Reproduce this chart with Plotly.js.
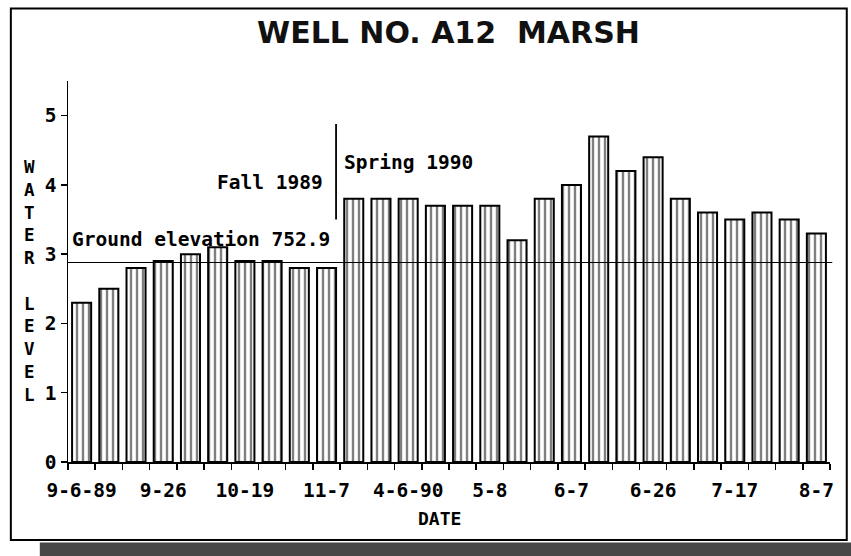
<!DOCTYPE html>
<html>
<head>
<meta charset="utf-8">
<script src="https://cdn.plot.ly/plotly-3.0.1.min.js"></script>
<style>
  html, body { margin: 0; padding: 0; background: #ffffff; }
  #chart { width: 851px; height: 556px; }
</style>
</head>
<body>
<div id="chart"></div>
<script>
// ---- data ----
const waterLevel = [2.3, 2.5, 2.8, 2.9, 3.0, 3.1, 2.9, 2.9, 2.8, 2.8,
                    3.8, 3.8, 3.8, 3.7, 3.7, 3.7, 3.2, 3.8, 4.0, 4.7,
                    4.2, 4.4, 3.8, 3.6, 3.5, 3.6, 3.5, 3.3];
const tickLabels = ['9-6-89', '9-26', '10-19', '11-7', '4-6-90', '5-8', '6-7', '6-26', '7-17', '8-7'];
const tickIndex = [0, 3, 6, 9, 12, 15, 18, 21, 24, 27];
const groundElevation = 2.88;
const seasonBreak = 9.35;
const yTicks = [0, 1, 2, 3, 4, 5];

const mono = 'DejaVu Sans Mono, Liberation Mono, monospace';
const xIdx = waterLevel.map((_, i) => i);

const trace = {
  type: 'bar',
  x: xIdx,
  y: waterLevel,
  width: 0.7,
  marker: {
    color: '#ffffff',
    line: { color: '#000000', width: 2 },
    pattern: { shape: '|', size: 6, solidity: 0.4, fgcolor: '#000000', bgcolor: '#ffffff', fillmode: 'overlay' }
  },
  hoverinfo: 'x+y'
};

const layout = {
  width: 851,
  height: 556,
  margin: { l: 68, r: 21, t: 81, b: 94 },
  paper_bgcolor: '#ffffff',
  plot_bgcolor: '#ffffff',
  showlegend: false,
  title: {
    text: 'WELL NO. A12\u00A0\u00A0MARSH',
    font: { family: 'DejaVu Sans, Liberation Sans, sans-serif', size: 30, color: '#111111', weight: 'bold' },
    x: 0.527, xref: 'container', xanchor: 'center',
    y: 0.941, yref: 'container', yanchor: 'middle'
  },
  xaxis: {
    range: [-0.5, 27.5],
    tickmode: 'array',
    tickvals: tickIndex,
    ticktext: tickLabels,
    ticks: '',
    ticklabelstandoff: 10,
    showgrid: false,
    zeroline: false,
    showline: true,
    linecolor: '#000000',
    linewidth: 1.5,
    tickfont: { family: mono, size: 19.5, color: '#000000', weight: 'bold' },
    minor: { tickmode: 'linear', tick0: -0.5, dtick: 1, ticks: 'outside', ticklen: 6, tickwidth: 1.5, tickcolor: '#000000', showgrid: false }
  },
  yaxis: {
    range: [0, 5.5],
    tickmode: 'array',
    tickvals: yTicks,
    ticks: 'outside',
    ticklen: 6,
    tickwidth: 1.5,
    tickcolor: '#000000',
    showgrid: false,
    zeroline: false,
    showline: true,
    linecolor: '#000000',
    linewidth: 1.5,
    tickfont: { family: mono, size: 19.5, color: '#000000', weight: 'bold' }
  },
  shapes: [
    // outer frame
    { type: 'rect', xref: 'paper', yref: 'paper', x0: -0.075, x1: 1.022, y0: -0.205, y1: 1.19,
      line: { color: '#000000', width: 2 }, fillcolor: 'rgba(0,0,0,0)', layer: 'below' },
    // dark shadow band below the frame
    { type: 'rect', xref: 'paper', yref: 'paper', x0: -0.037, x1: 1.03, y0: -0.211, y1: -0.26,
      line: { width: 0 }, fillcolor: '#474747', layer: 'below' },
    // ground elevation line
    { type: 'line', xref: 'paper', yref: 'y', x0: 0, x1: 1.003, y0: groundElevation, y1: groundElevation,
      line: { color: '#000000', width: 1.2 }, layer: 'above' },
    // season divider
    { type: 'line', xref: 'x', yref: 'y', x0: seasonBreak, x1: seasonBreak, y0: 3.5, y1: 4.88,
      line: { color: '#000000', width: 1.8 } }
  ],
  annotations: [
    { text: '<b>Ground elevation 752.9</b>', xref: 'paper', yref: 'y', x: 0.002, y: 3.21,
      xanchor: 'left', yanchor: 'middle', showarrow: false, font: { family: mono, size: 19.5, color: '#000000' } },
    { text: '<b>Fall 1989</b>', xref: 'x', yref: 'y', x: 8.95, y: 4.03,
      xanchor: 'right', yanchor: 'middle', showarrow: false, font: { family: mono, size: 19.5, color: '#000000' } },
    { text: '<b>Spring 1990</b>', xref: 'x', yref: 'y', x: 9.55, y: 4.32,
      xanchor: 'left', yanchor: 'middle', showarrow: false, font: { family: mono, size: 19.5, color: '#000000' } },
    { text: '<b>DATE</b>', xref: 'paper', yref: 'paper', x: 0.488, y: -0.147,
      xanchor: 'center', yanchor: 'middle', showarrow: false, font: { family: mono, size: 18, color: '#000000' } },
    { text: '<b>W<br>A<br>T<br>E<br>R<br> <br>L<br>E<br>V<br>E<br>L</b>', xref: 'paper', yref: 'paper',
      x: -0.05, y: 0.475, xanchor: 'center', yanchor: 'middle', showarrow: false, align: 'center',
      font: { family: mono, size: 17.5, color: '#000000' } }
  ]
};

Plotly.newPlot('chart', [trace], layout, { displayModeBar: false, staticPlot: true });
</script>
</body>
</html>
